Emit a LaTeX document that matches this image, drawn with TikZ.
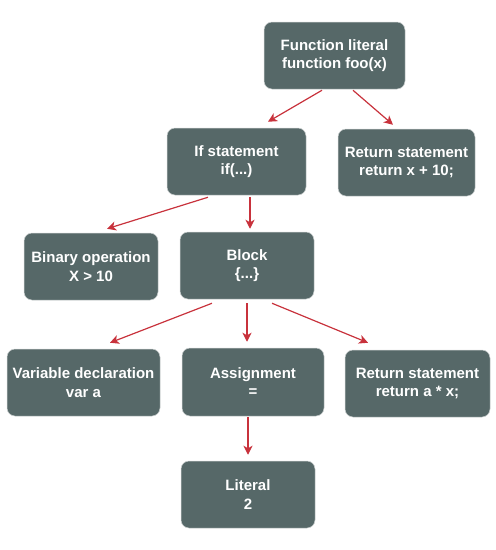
\documentclass[tikz,border=0pt]{standalone}
\usepackage{fontspec}
\setmainfont{Liberation Sans}
\usepackage{tikz}
\usetikzlibrary{arrows.meta}
\definecolor{boxgray}{RGB}{86,104,104}
\definecolor{edgegray}{RGB}{205,210,210}
\definecolor{arrowred}{RGB}{200,50,60}
\tikzstyle{line} = [draw=arrowred, line width=1.2pt, -{Stealth[length=9pt, width=9pt, inset=2.5pt]}]
\tikzstyle{ast_node} = [rectangle, rounded corners=8pt, draw=edgegray, line width=0.5pt, fill=boxgray, text=white, font=\fontsize{15}{18.5}\selectfont\bfseries, align=center, minimum width=134pt, minimum height=67pt, inner sep=2pt]

\begin{document}
\begin{tikzpicture}[x=1pt, y=1pt]
		\useasboundingbox (0,0) rectangle (496,-550);
		\node[ast_node, minimum width=141pt] (func_lit) at (334.5,-55.5) {Function literal\\function foo(x)};
		
		\node[ast_node, minimum width=139pt, below of=func_lit, node distance=106pt, xshift=-98pt] (if_stmt) {If statement\\if(...)};
		\node[ast_node, minimum width=137pt, right of=if_stmt, node distance=170pt, yshift=-1pt] (ret_x) {Return statement\\return x + 10;};
		\path [line] ([xshift=-12.5pt, yshift=-1pt]func_lit.south) to ([xshift=31.5pt, yshift=6pt]if_stmt.north);
		\path [line] ([xshift=18.5pt, yshift=-1pt]func_lit.south) to ([xshift=-13.5pt, yshift=4pt]ret_x.north);
		
		\node[ast_node, below of=if_stmt, node distance=105pt, xshift=-145.5pt] (bin_op) {Binary operation\\X > 10};
		\node[ast_node, below of=if_stmt, node distance=104pt, xshift=10.5pt] (block) {Block\\\{...\}};
		\path [line] ([xshift=-28.5pt, yshift=-2pt]if_stmt.south) to ([xshift=16pt, yshift=4pt]bin_op.north);
		\path [line] ([xshift=13.5pt, yshift=-2pt]if_stmt.south) to ([xshift=3pt, yshift=3pt]block.north);
		
		\node[ast_node, minimum width=153pt, below of=block, node distance=117pt, xshift=-163.5pt] (var_decl) {Variable declaration\\var a};
		\node[ast_node, minimum width=142pt, minimum height=68pt, below of=block, node distance=116.5pt, xshift=6pt] (assign) {Assignment\\=};
		\node[ast_node, minimum width=145pt, below of=block, node distance=118pt, xshift=170.5pt] (ret_ax) {Return statement\\return a * x;};
		\path [line] ([xshift=-35pt, yshift=-4pt]block.south) to ([xshift=26.5pt, yshift=6pt]var_decl.north);
		\path [line] ([yshift=-4pt]block.south) to ([xshift=-6pt, yshift=6pt]assign.north);
		\path [line] ([xshift=25pt, yshift=-4pt]block.south) to ([xshift=-49.5pt, yshift=7pt]ret_ax.north);
		
		\node[ast_node, below of=assign, node distance=112.5pt, xshift=-5pt] (literal) {Literal\\2};
		\path [line] ([xshift=-5pt, yshift=-1pt]assign.south) to ([yshift=6pt]literal.north);
\end{tikzpicture}
\end{document}
